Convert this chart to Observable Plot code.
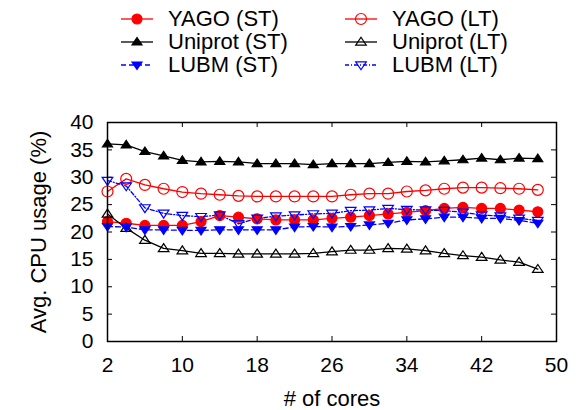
<!DOCTYPE html>
<html>
<head>
<meta charset="utf-8">
<script src="https://cdn.jsdelivr.net/npm/d3@7"></script>
<script src="https://cdn.jsdelivr.net/npm/@observablehq/plot@0.6"></script>
<style>
  html, body { margin: 0; padding: 0; background: white; }
  #wrap { position: relative; width: 579px; height: 410px; font-family: "Liberation Sans", Arial, sans-serif; }
  #legend { position: relative; width: 579px; height: 100px; }
  .item { position: absolute; height: 24px; }
  .item span { position: absolute; font-size: 22px; line-height: 24px; white-space: nowrap; color: black; }
  .item svg { position: absolute; top: 0; }
  #chart svg { overflow: visible; }
</style>
</head>
<body>
<div id="wrap">
  <div id="legend"></div>
  <div id="chart"></div>
</div>
<script>
// ---- data ----
const cores = [2,4,6,8,10,12,14,16,18,20,22,24,26,28,30,32,34,36,38,40,42,44,46,48];
const yagoST = [21.9,21.6,21.2,21.2,21.2,21.9,23.0,22.7,22.4,22.2,22.2,22.2,22.5,22.7,23.0,23.3,23.6,23.9,24.3,24.5,24.3,24.3,24.0,23.7];
const yagoLT = [27.4,29.7,28.6,27.9,27.3,27.0,26.8,26.6,26.5,26.5,26.5,26.5,26.5,26.8,27.0,27.0,27.4,27.6,27.9,28.1,28.1,28.0,27.9,27.7];
const uniprotST = [36.1,35.9,34.7,33.9,33.1,32.8,32.9,32.8,32.5,32.5,32.5,32.3,32.5,32.5,32.5,32.7,32.9,32.8,33.0,33.2,33.5,33.2,33.5,33.4];
const uniprotLT = [23.3,20.7,18.5,17.0,16.6,16.1,16.1,16.0,16.0,16.0,16.0,16.1,16.4,16.7,16.7,17.0,16.9,16.6,16.1,15.7,15.4,14.9,14.5,13.2];
const lubmST = [21.0,20.9,20.4,20.4,20.3,20.3,20.4,20.4,20.4,20.4,20.9,21.0,20.9,21.0,21.3,21.6,22.2,22.4,22.7,22.7,22.5,22.5,22.1,21.6];
const lubmLT = [29.4,28.4,24.4,23.4,23.0,22.8,23.1,21.5,22.5,22.9,23.1,23.3,23.4,23.9,24.0,24.3,24.1,24.0,23.9,23.6,23.1,22.9,22.5,22.1];
const seriesNames = ["YAGO (ST)","YAGO (LT)","Uniprot (ST)","Uniprot (LT)","LUBM (ST)","LUBM (LT)"];
const xTicks = [2,10,18,26,34,42,50];
const yTicks = [0,5,10,15,20,25,30,35,40];
const xLabel = "# of cores";
const yLabel = "Avg. CPU usage (%)";

// ---- symbols ----
const triUp = {draw(ctx, size){ const r = Math.sqrt(size/Math.PI); ctx.moveTo(0,-0.9*r); ctx.lineTo(r,0.6*r); ctx.lineTo(-r,0.6*r); ctx.closePath(); }};
const triDown = {draw(ctx, size){ const r = Math.sqrt(size/Math.PI); ctx.moveTo(0,0.9*r); ctx.lineTo(r,-0.6*r); ctx.lineTo(-r,-0.6*r); ctx.closePath(); }};

const styles = {
  "YAGO (ST)":    {values: yagoST,    color:"#ff0000", dash:null,  symbol:"circle", filled:true,  r:5},
  "YAGO (LT)":    {values: yagoLT,    color:"#ff0000", dash:null,  symbol:"circle", filled:false, r:5.5},
  "Uniprot (ST)": {values: uniprotST, color:"#000000", dash:null,  symbol:triUp,   filled:true,  r:5},
  "Uniprot (LT)": {values: uniprotLT, color:"#000000", dash:null,  symbol:triUp,   filled:false, r:5.3},
  "LUBM (ST)":    {values: lubmST,    color:"#0000ff", dash:"5,3", symbol:triDown, filled:true,  r:5},
  "LUBM (LT)":    {values: lubmLT,    color:"#0000ff", dash:"4,2,1,2", symbol:triDown, filled:false, r:5.3}
};

const data = [];
for (const s of seriesNames) styles[s].values.forEach((v,i) => data.push({series:s, x:cores[i], y:v}));

// ---- legend ----
const legend = document.getElementById("legend");
function symPath(sym, r){
  const p = d3.path();
  if (sym === "circle") { p.arc(0,0,r,0,2*Math.PI); }
  else sym.draw(p, r*r*Math.PI);
  return p.toString();
}
seriesNames.forEach((s,i) => {
  const st = styles[s];
  const col = i % 2, row = Math.floor(i/2);
  const cy = 19 + row*23;
  const lineLeft = col ? 345 : 121, textLeft = col ? 392 : 168;
  const div = document.createElement("div");
  div.className = "item";
  div.style.left = "0px"; div.style.top = (cy-12)+"px"; div.style.width = "579px";
  div.innerHTML =
    `<svg width="40" height="24" style="left:${lineLeft-4}px" viewBox="-4 -12 40 24">
       <line x1="0" y1="0" x2="32" y2="0" stroke="${st.color}" stroke-width="1.3" ${st.dash?`stroke-dasharray="${st.dash}"`:""}/>
       <path transform="translate(16,0)" d="${symPath(st.symbol, st.r)}" fill="${st.filled?st.color:"none"}" stroke="${st.color}" stroke-width="1.2"/>
     </svg><span style="left:${textLeft}px;top:0">${s}</span>`;
  legend.appendChild(div);
});

// ---- plot ----
const W = 579, H = 310, mt = 22, mb = 69, ml = 107, mr = 23;
const plotH = H - mt - mb, plotW = W - ml - mr, tl = 5;
const marks = [];
for (const s of seriesNames) {
  const st = styles[s];
  const d = data.filter(e => e.series === s);
  marks.push(Plot.line(d, {x:"x", y:"y", stroke:st.color, strokeWidth:1.3, strokeDasharray:st.dash ?? undefined}));
}
for (const s of seriesNames) {
  const st = styles[s];
  const d = data.filter(e => e.series === s);
  marks.push(Plot.dot(d, {x:"x", y:"y", symbol:st.symbol, r:st.r, fill:st.filled?st.color:"none", stroke:st.color, strokeWidth:1.2}));
}
const chart = Plot.plot({
  width: W, height: H, marginTop: mt, marginBottom: mb, marginLeft: ml, marginRight: mr,
  style: {fontFamily: "'Liberation Sans', Arial, sans-serif", fontSize: "21px", background: "white", color: "black", overflow: "visible"},
  x: {domain: [2, 50]},
  y: {domain: [0, 40]},
  marks: [
    Plot.tickX(xTicks, {x: d => d, insetTop: plotH - tl, stroke: "black", strokeWidth: 1}),
    Plot.tickX(xTicks, {x: d => d, insetBottom: plotH - tl, stroke: "black", strokeWidth: 1}),
    Plot.tickY(yTicks, {y: d => d, insetRight: plotW - tl, stroke: "black", strokeWidth: 1}),
    Plot.tickY(yTicks, {y: d => d, insetLeft: plotW - tl, stroke: "black", strokeWidth: 1}),
    ...marks,
    Plot.frame({stroke: "black", strokeWidth: 1.5}),
    Plot.axisX(xTicks, {tickSize: 0, tickPadding: 16, label: null, fontSize: 21}),
    Plot.axisY(yTicks, {tickSize: 0, tickPadding: 14, label: null, fontSize: 21}),
    Plot.text([yLabel], {text: d => d, frameAnchor: "left", textAnchor: "middle", lineAnchor: "middle", rotate: -90, dx: -69, fontSize: 22}),
    Plot.text([xLabel], {text: d => d, frameAnchor: "bottom", textAnchor: "middle", lineAnchor: "middle", dy: 57, fontSize: 22})
  ]
});
document.getElementById("chart").appendChild(chart);
</script>
</body>
</html>
